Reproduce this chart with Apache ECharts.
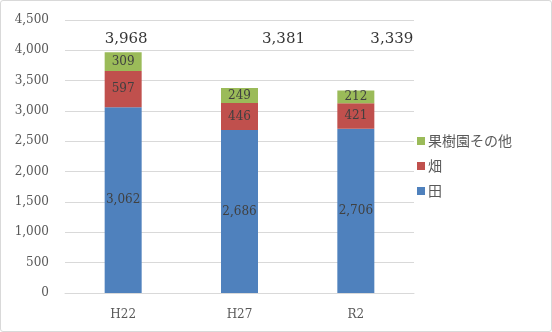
<!DOCTYPE html>
<html><head><meta charset="utf-8">
<script src="https://cdn.jsdelivr.net/npm/echarts@6/dist/echarts.min.js"></script>
<style>html,body{margin:0;padding:0;background:#fff}#c{width:550px;height:330px;border:1px solid #d9d9d9;border-radius:3px}</style>
</head><body><div id="c"></div>
<script>
const categories = ['H22', 'H27', 'R2'];
const rice = [3062, 2686, 2706];       // 田
const field = [597, 446, 421];         // 畑
const orchard = [309, 249, 212];       // 果樹園その他
const totals = [3968, 3381, 3339];
const yTicks = [0, 500, 1000, 1500, 2000, 2500, 3000, 3500, 4000, 4500];
const TOTAL_ROW = 4190;
const totalOffsets = [[3, 0], [44, 0], [36, 0]];

const numFont = 'DejaVu Serif';
const fmt = v => v.toLocaleString('en-US');
const segLabel = {show: true, position: 'inside', color: '#404040', fontFamily: numFont, fontSize: 12,
  formatter: p => fmt(p.value)};

const chart = echarts.init(document.getElementById('c'));
chart.setOption({
  animation: false,
  grid: {left: 64, right: 137, top: 19, bottom: 38},
  legend: {
    orient: 'vertical', left: 411, top: 128, itemGap: 11, itemWidth: 8, itemHeight: 8,
    icon: 'rect', data: ['果樹園その他', '畑', '田'],
    textStyle: {fontFamily: 'Noto Sans CJK JP', fontSize: 14, color: '#595959', padding: [0, 0, 0, -2]}
  },
  xAxis: {
    type: 'category', data: categories,
    axisLine: {lineStyle: {color: '#d9d9d9'}}, axisTick: {show: false},
    axisLabel: {fontFamily: numFont, fontSize: 12, color: '#595959', margin: 16}
  },
  yAxis: {
    type: 'value', min: yTicks[0], max: yTicks[yTicks.length - 1], interval: 500,
    axisLine: {show: false}, axisTick: {show: false},
    splitLine: {lineStyle: {color: '#d9d9d9'}},
    axisLabel: {fontFamily: numFont, fontSize: 12, color: '#595959', margin: 16, formatter: v => fmt(v)}
  },
  series: [
    {name: '田', type: 'bar', stack: 't', data: rice, barWidth: 37, itemStyle: {color: '#4f81bd'}, label: segLabel},
    {name: '畑', type: 'bar', stack: 't', data: field, itemStyle: {color: '#c0504d'}, label: segLabel},
    {name: '果樹園その他', type: 'bar', stack: 't', data: orchard, itemStyle: {color: '#9bbb59'}, label: segLabel},
    {type: 'scatter', symbol: 'circle', symbolSize: 2, itemStyle: {color: 'rgba(0,0,0,0)'}, silent: true, z: 10,
      data: totals.map((t, i) => ({value: [i, TOTAL_ROW],
        label: {show: true, position: 'inside', offset: totalOffsets[i], formatter: fmt(t),
          color: '#000', fontFamily: numFont, fontSize: 15}}))}
  ]
});
</script></body></html>
